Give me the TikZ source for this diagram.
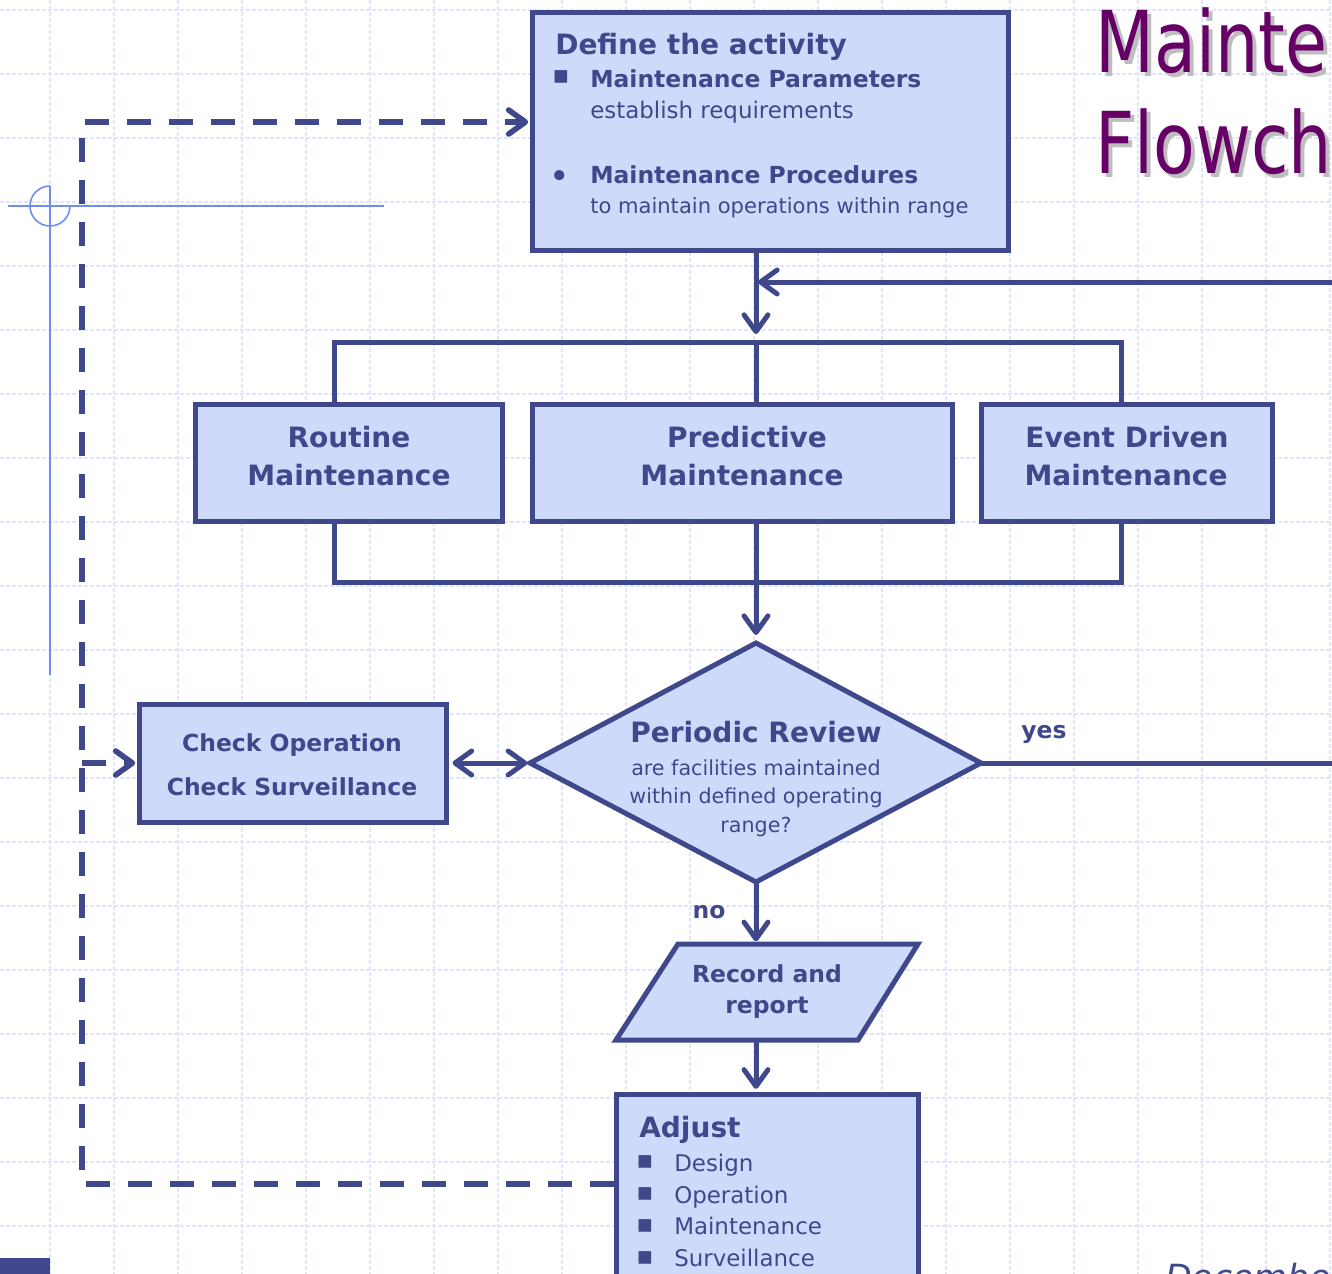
\documentclass[tikz,border=0pt]{standalone}
\usepackage{fontspec}
\setmainfont{DejaVu Sans}
\newfontfamily\titlefont[FakeStretch=0.8]{DejaVu Sans}
\usetikzlibrary{arrows.meta}
\definecolor{dk}{RGB}{64,72,140}
\definecolor{lt}{RGB}{205,218,250}
\definecolor{gridc}{RGB}{222,229,252}
\definecolor{xh}{RGB}{112,142,240}
\definecolor{ttl}{RGB}{102,0,102}
\definecolor{shd}{RGB}{190,190,190}
\begin{document}
\begin{tikzpicture}[x=0.75pt,y=-0.75pt,
  box/.style={draw=dk,fill=lt,line width=3.75pt,rectangle,inner sep=0pt},
  conn/.style={draw=dk,line width=3.75pt},
  barb/.tip={Straight Barb[length=12.5pt,width=18pt,round]},
  arr/.style={conn,-barb},
  dashline/.style={draw=dk,line width=4.2pt,dash pattern=on 18pt off 13.5pt},
  big/.style={font=\bfseries\fontsize{21}{25}\selectfont,text=dk,inner sep=0pt},
  mid/.style={font=\bfseries\fontsize{17.6}{21}\selectfont,text=dk,inner sep=0pt},
  reg/.style={font=\fontsize{17.2}{21}\selectfont,text=dk,inner sep=0pt},
  sml/.style={font=\fontsize{15.5}{19}\selectfont,text=dk,inner sep=0pt},
  bul/.style={font=\fontsize{19}{22}\selectfont,text=dk,inner sep=0pt},
]
\useasboundingbox (0,0) rectangle (1332,1274);
\clip (0,0) rectangle (1332,1274);
\fill[white] (0,0) rectangle (1332,1274);

% grid
\foreach \gx in {50,114,...,1330}
  \draw[gridc,line width=0.9pt,dash pattern=on 3pt off 1.5pt] (\gx,0) -- (\gx,1274);
\foreach \gy in {10,74,...,1270}
  \draw[gridc,line width=0.9pt,dash pattern=on 3pt off 1.5pt] (0,\gy) -- (1332,\gy);

% crosshair
\draw[xh,line width=1.2pt] (8,206) -- (384,206);
\draw[xh,line width=1.2pt] (50,186) -- (50,675);
\draw[xh,line width=1.2pt] (50,186) arc[start angle=90,end angle=360,radius=15pt];

% corner block
\fill[dk] (0,1258) rectangle (50,1274);

% title
\node[font=\titlefont\fontsize{64}{70}\selectfont,text=shd,anchor=base west,inner sep=0pt] (ts1) at (1099,76) {Mainte};
\node[font=\titlefont\fontsize{64}{70}\selectfont,text=shd,anchor=base west,inner sep=0pt] (ts2) at (1099,177) {Flowch};
\node[font=\titlefont\fontsize{64}{70}\selectfont,text=ttl,anchor=base west,inner sep=0pt] (t1) at (1095,72) {Mainte};
\node[font=\titlefont\fontsize{64}{70}\selectfont,text=ttl,anchor=base west,inner sep=0pt] (t2) at (1095,173) {Flowch};
\node[font=\itshape\fontsize{26}{30}\selectfont,text=dk,anchor=base west,inner sep=0pt] (dec) at (1165,1289) {December};

% coordinates
\coordinate (jtop) at (756,342);
\coordinate (jbot) at (756,582);
\coordinate (bl) at (334,342);
\coordinate (br) at (1121,342);
\coordinate (bl2) at (334,582);
\coordinate (br2) at (1121,582);
\coordinate (rin) at (1340,282);
\coordinate (rout) at (1340,763);
\coordinate (dtop) at (756,643);
\coordinate (dleft) at (530,763);
\coordinate (dright) at (981,763);
\coordinate (dbot) at (756,882);
\coordinate (ptop) at (756,944);
\coordinate (pbot) at (756,1040);
\coordinate (dbl) at (82,1184);
\coordinate (dtl) at (82,122);
\coordinate (dmid) at (82,763);

% boxes (empty, text placed separately)
\node[box,minimum width=357pt,minimum height=178.5pt] (def) at (770,131) {};
\node[box,minimum width=230.25pt,minimum height=87.75pt] (routine) at (348.5,462.5) {};
\node[box,minimum width=315pt,minimum height=87.75pt] (pred) at (742,462.5) {};
\node[box,minimum width=218.25pt,minimum height=87.75pt] (event) at (1126.5,462.5) {};
\node[box,minimum width=230.25pt,minimum height=88.5pt] (check) at (292.5,763) {};
\node[box,minimum width=226.5pt,minimum height=147pt] (adjust) at (767,1192) {};

% diamond and parallelogram
\draw[dk,fill=lt,line width=3.75pt,line join=miter] (dtop) -- (dright) -- (dbot) -- (dleft) -- cycle;
\draw[dk,fill=lt,line width=3.75pt,line join=miter] (678,944) -- (918,944) -- (858,1040) -- (616,1040) -- cycle;

% connectors
\draw[arr,shorten >=6pt] (def.south -| jtop) -- (jtop);
\draw[arr,shorten >=1.5pt] (rin) -- (rin -| jtop);
\draw[conn] (bl |- routine.north) -- (bl) -- (br) -- (br |- event.north);
\draw[conn] (jtop) -- (jtop |- pred.north);
\draw[conn] (bl2 |- routine.south) -- (bl2) -- (br2) -- (br2 |- event.south);
\draw[conn] (pred.south -| jbot) -- (jbot);
\draw[arr,shorten >=6pt] (jbot) -- (dtop);
\draw[conn,barb-barb,shorten <=3pt,shorten >=2pt] (check.east) -- (dleft);
\draw[conn] (dright) -- (rout);
\draw[arr,shorten >=2pt] (dbot) -- (ptop);
\draw[arr,shorten >=2pt] (pbot) -- (adjust.north -| pbot);
\draw[dashline,-barb,shorten >=1pt] (dbl -| adjust.west) -- (dbl) -- (dtl) -- (dtl -| def.west);
\draw[dashline,-barb,shorten >=1pt] (dmid) -- (check.west);

% define text
\node[big,anchor=base west] (dtitle) at (555,54) {Define the activity};
\node[bul] (db1) at (561,77) {▪};
\node[mid,anchor=base west] (dp1) at (590,87) {Maintenance Parameters};
\node[reg,anchor=base west] (dp2) at (590,118) {establish requirements};
\node[font=\fontsize{26}{28}\selectfont,text=dk,inner sep=0pt] (db2) at (560,180) {•};
\node[mid,anchor=base west] (dp3) at (590,183) {Maintenance Procedures};
\node[font=\fontsize{15.8}{20}\selectfont,text=dk,inner sep=0pt,anchor=base west] (dp4) at (590,213) {to maintain operations within range};

% maintenance boxes text
\node[big,anchor=base] (r1) at (349,447) {Routine};
\node[big,anchor=base] (r2) at (349,485) {Maintenance};
\node[big,anchor=base] (p1) at (747,447) {Predictive};
\node[big,anchor=base] (p2) at (742,485) {Maintenance};
\node[big,anchor=base] (e1) at (1127,447) {Event Driven};
\node[big,anchor=base] (e2) at (1126,485) {Maintenance};

% check text
\node[mid,anchor=base] (c1) at (292,751) {Check Operation};
\node[mid,anchor=base] (c2) at (292,795) {Check Surveillance};

% review text
\node[big,anchor=base] (rv1) at (756,742) {Periodic Review};
\node[sml,anchor=base] (rv2) at (756,775) {are facilities maintained};
\node[sml,anchor=base] (rv3) at (756,803) {within defined operating};
\node[sml,anchor=base] (rv4) at (756,832) {range?};
\node[mid,anchor=base] (yes) at (1044,738) {yes};
\node[mid,anchor=base] (no) at (709,918) {no};

% record text
\node[mid,anchor=base] (rc1) at (767,982) {Record and};
\node[mid,anchor=base] (rc2) at (767,1013) {report};

% adjust text
\node[big,anchor=base west] (a0) at (639,1137) {Adjust};
\node[bul] (ab1) at (645,1162) {▪};
\node[bul] (ab2) at (645,1194) {▪};
\node[bul] (ab3) at (645,1226) {▪};
\node[bul] (ab4) at (645,1258) {▪};
\node[reg,anchor=base west] (a1) at (674,1171) {Design};
\node[reg,anchor=base west] (a2) at (674,1203) {Operation};
\node[reg,anchor=base west] (a3) at (674,1234) {Maintenance};
\node[reg,anchor=base west] (a4) at (674,1266) {Surveillance};
\end{tikzpicture}
\end{document}
